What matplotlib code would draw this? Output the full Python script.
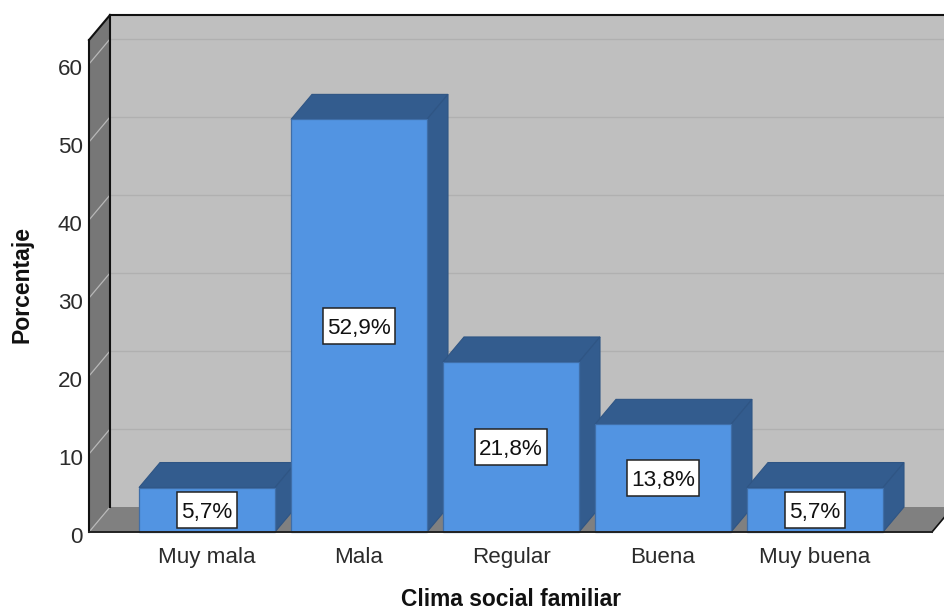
import matplotlib
matplotlib.use("Agg")
import matplotlib.pyplot as plt
from matplotlib.patches import Polygon, Rectangle
from matplotlib.transforms import ScaledTranslation

categories = ["Muy mala", "Mala", "Regular", "Buena", "Muy buena"]
percent = [5.7, 52.9, 21.8, 13.8, 5.7]
percent_labels = ["5,7%", "52,9%", "21,8%", "13,8%", "5,7%"]
y_ticks = [0, 10, 20, 30, 40, 50, 60]

W, H = 944, 611
BAR_BLUE = "#5294e2"
BAR_DARK = "#335c8e"
EDGE = "#3f6ea8"
WALL = "#bfbfbf"
SIDE = "#777777"
FLOOR = "#808080"
TEXT = "#2b2b2b"

plt.rcParams["font.family"] = ["Liberation Sans", "DejaVu Sans"]

fig = plt.figure(figsize=(W / 100, H / 100), dpi=100)
# axes = front plane of the 3D box, in pixels: x 89..932, y 40..532
ax = fig.add_axes([89 / W, (H - 532) / H, (932 - 89) / W, (532 - 40) / H])
step = 152.0
ppu = 7.8  # pixels per percent
ax.set_xlim((89 - 207) / step, (932 - 207) / step)
ax.set_ylim(0, 492 / ppu)
ax.patch.set_visible(False)
for s in ax.spines.values():
    s.set_visible(False)

x0, x1 = ax.get_xlim()
y1 = ax.get_ylim()[1]
dx = 21 / step  # depth offset
dy = 25 / ppu
bar_w = 136 / step


def poly(pts, fc, ec="none", lw=0.0, z=1):
    ax.add_patch(Polygon(pts, closed=True, facecolor=fc, edgecolor=ec,
                         linewidth=lw, zorder=z, clip_on=False))


# walls and floor
poly([(x0 + dx, dy), (x1 + dx, dy), (x1 + dx, y1 + dy), (x0 + dx, y1 + dy)], WALL)
poly([(x0, 0), (x0 + dx, dy), (x0 + dx, y1 + dy), (x0, y1)], SIDE)
poly([(x0, 0), (x1, 0), (x1 + dx, dy), (x0 + dx, dy)], FLOOR)

# gridlines
for v in y_ticks:
    ax.plot([x0, x0 + dx], [v, v + dy], color="#b8b8b8", lw=0.9, zorder=2, clip_on=False)
    if v > 0:
        ax.plot([x0 + dx, x1 + dx], [v + dy, v + dy], color="#b0b0b0", lw=1.0, zorder=2, clip_on=False)

# frame
frame = dict(color="#111111", lw=1.5, zorder=3, clip_on=False, solid_capstyle="projecting")
ax.plot([x0, x0], [0, y1], **frame)
ax.plot([x0, x0 + dx], [y1, y1 + dy], **frame)
ax.plot([x0 + dx, x1 + dx], [y1 + dy, y1 + dy], **frame)
ax.plot([x0 + dx, x0 + dx], [dy, y1 + dy], **frame)
ax.plot([x1, x1 + dx], [0, dy], color="#111111", lw=1.2, zorder=3, clip_on=False)

# bars, left to right so each one covers the side of the previous
for i, v in enumerate(percent):
    l, r = i - bar_w / 2, i + bar_w / 2
    z = 4 + i
    poly([(l, v), (r, v), (r + dx, v + dy), (l + dx, v + dy)], BAR_DARK, "#2f5584", 0.8, z)
    poly([(r, 0), (r + dx, dy), (r + dx, v + dy), (r, v)], BAR_DARK, "#2f5584", 0.8, z)
    ax.bar(i, v, width=bar_w, color=BAR_BLUE, edgecolor=EDGE, linewidth=0.9, zorder=z, clip_on=False)

# value labels: box is taller than the text, so it is sized from the text extent
renderer = fig.canvas.get_renderer()
for i, v in enumerate(percent):
    t = ax.text(i, v / 2, percent_labels[i], ha="center", va="center_baseline", fontsize=16.2,
                color="#111111", zorder=21)
    box_w = (t.get_window_extent(renderer).width + 9) / step
    box_h = 36 / ppu
    ax.add_patch(Rectangle((i - box_w / 2, v / 2 - box_h / 2), box_w, box_h, facecolor="white",
                           edgecolor="#222222", linewidth=1.1, zorder=20, clip_on=False))

# baseline over the bar feet
ax.plot([x0, x1], [0, 0], color="#222222", lw=1.4, zorder=15, clip_on=False)

ax.set_xticks(range(len(categories)))
ax.set_xticklabels(categories, fontsize=16.1, color=TEXT, va="baseline")
ax.set_yticks(y_ticks)
ax.set_yticklabels([str(v) for v in y_ticks], fontsize=16.1, color=TEXT)
ax.tick_params(axis="both", length=0)
ax.tick_params(axis="x", pad=22.5)
ax.tick_params(axis="y", pad=4.5)
shift = ScaledTranslation(0, -2 / 72, fig.dpi_scale_trans)
for lab in ax.get_yticklabels():
    lab.set_transform(lab.get_transform() + shift)

fig.text(511 / W, 1 - 600 / H, "Clima social familiar", ha="center", va="center",
         fontsize=16.4, fontweight="bold", color="#111111")
fig.text(22 / W, 1 - 285 / H, "Porcentaje", ha="center", va="center", rotation=90,
         fontsize=16.6, fontweight="bold", color="#111111")

fig.savefig("out.png", dpi=100)
